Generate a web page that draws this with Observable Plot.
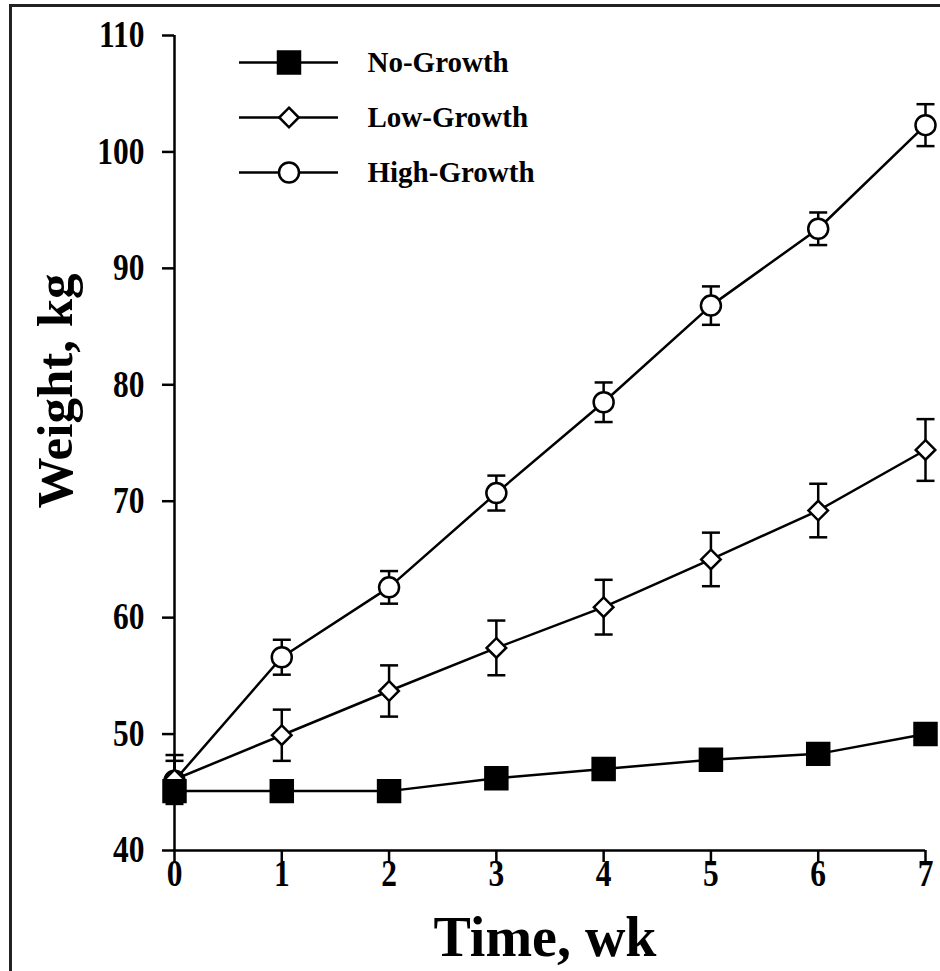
<!DOCTYPE html>
<html>
<head>
<meta charset="utf-8">
<script src="https://cdn.jsdelivr.net/npm/d3@7"></script>
<script src="https://cdn.jsdelivr.net/npm/@observablehq/plot@0.6"></script>
<style>
  html, body { margin: 0; padding: 0; background: #fff; }
  #wrap { position: relative; width: 940px; height: 971px; overflow: hidden; }
  #frame { position: absolute; left: 9px; top: 4px; width: 1000px; height: 1000px;
           border-left: 3px solid #222; border-top: 3px solid #222; pointer-events: none; }
  #legend { position: absolute; left: 239px; top: 40px; }
  svg text { font-family: "Liberation Serif", serif; font-weight: bold; }
</style>
</head>
<body>
<div id="wrap">
  <div id="chart"></div>
  <div id="legend"></div>
  <div id="frame"></div>
</div>
<script>
// ---- data ----
const weeks = [0, 1, 2, 3, 4, 5, 6, 7];
const seriesNames = ["No-Growth", "Low-Growth", "High-Growth"];
const noGrowth    = [45.1, 45.1, 45.1, 46.2, 47.0, 47.8, 48.3, 50.0];
const noGrowthSE  = [0.5, 0.5, 0.5, 0.5, 0.5, 0.5, 0.5, 0.5];
const lowGrowth   = [46.1, 49.9, 53.7, 57.4, 60.9, 65.0, 69.2, 74.4];
const lowGrowthSE = [2.1, 2.2, 2.2, 2.35, 2.35, 2.3, 2.3, 2.65];
const highGrowth  = [46.0, 56.6, 62.6, 70.7, 78.5, 86.8, 93.4, 102.3];
const highGrowthSE= [1.7, 1.5, 1.4, 1.5, 1.7, 1.65, 1.4, 1.8];
const xTicks = [0, 1, 2, 3, 4, 5, 6, 7];
const yTicks = [40, 50, 60, 70, 80, 90, 100, 110];
const xLabel = "Time, wk";
const yLabel = "Weight, kg";

const seriesValues = [noGrowth, lowGrowth, highGrowth];
const seriesSE = [noGrowthSE, lowGrowthSE, highGrowthSE];
const symbols = ["square", "diamond2", "circle"];
const fills = ["black", "white", "white"];
const radii = [12.4, 8.8, 10];

const rows = [];
seriesNames.forEach((s, i) => weeks.forEach((w, j) =>
  rows.push({series: s, idx: i, week: w, weight: seriesValues[i][j], se: seriesSE[i][j]})));

const cap = {
  draw(context, size) {
    const r = Math.sqrt(size / Math.PI);
    context.moveTo(-r, 0);
    context.lineTo(r, 0);
  }
};

const LW = 2.5;
const marks = [];
// lines
seriesNames.forEach((s) => {
  marks.push(Plot.line(rows.filter(d => d.series === s), {x: "week", y: "weight", stroke: "black", strokeWidth: LW}));
});
// error bars
[2, 1, 0].forEach((i) => {
  const data = rows.filter(d => d.idx === i);
  marks.push(Plot.ruleX(data, {x: "week", y1: d => d.weight - d.se, y2: d => d.weight + d.se, stroke: "black", strokeWidth: LW}));
  marks.push(Plot.dot(data, {x: "week", y: d => d.weight + d.se, symbol: cap, r: 9, stroke: "black", strokeWidth: LW}));
  marks.push(Plot.dot(data, {x: "week", y: d => d.weight - d.se, symbol: cap, r: 9, stroke: "black", strokeWidth: LW}));
});
// markers
[2, 1, 0].forEach((i) => {
  const data = rows.filter(d => d.idx === i);
  marks.push(Plot.dot(data, {x: "week", y: "weight", symbol: symbols[i], r: radii[i], fill: fills[i], stroke: "black", strokeWidth: LW}));
});

const chart = Plot.plot({
  width: 940,
  height: 971,
  marginLeft: 174,
  marginRight: 15,
  marginTop: 35,
  marginBottom: 121,
  style: {fontFamily: "'Liberation Serif', serif", background: "transparent", overflow: "visible"},
  x: {domain: [0, 7]},
  y: {domain: [40, 110]},
  marks: [
    Plot.ruleX([0], {stroke: "black", strokeWidth: LW}),
    Plot.ruleY([40], {stroke: "black", strokeWidth: LW}),
    Plot.axisY(yTicks, {tickSize: 12, tickPadding: 18, fontSize: 37, fontWeight: "bold", strokeWidth: LW, label: null}),
    Plot.axisX(xTicks, {tickSize: 12, tickPadding: -3, fontSize: 37, fontWeight: "bold", strokeWidth: LW, label: null}),
    Plot.text([xLabel], {frameAnchor: "bottom", textAnchor: "middle", lineAnchor: "middle", dy: 88, dx: -5, fontSize: 56, fontWeight: "bold", fill: "black"}),
    Plot.text([yLabel], {frameAnchor: "left", textAnchor: "middle", lineAnchor: "middle", rotate: -90, dx: -119, dy: -52, fontSize: 51, fontWeight: "bold", fill: "black"}),
    ...marks
  ]
});
document.getElementById("chart").appendChild(chart);

// narrow the tick labels horizontally, like the reference's condensed digits
d3.select(chart).selectAll('g[aria-label$="tick label"] text').each(function () {
  const t = this.getAttribute("transform");
  if (t) {
    this.setAttribute("transform", t + " scale(0.85,1)");
  } else {
    const x = +this.getAttribute("x") || 0, y = +this.getAttribute("y") || 0;
    this.setAttribute("transform", `translate(${x},${y}) scale(0.85,1) translate(${-x},${-y})`);
  }
});

// legend as a small Plot
const legendMarks = [
  Plot.ruleY(seriesNames, {y: d => d, x1: 0, x2: 1, stroke: "black", strokeWidth: LW})
];
seriesNames.forEach((s, i) => {
  legendMarks.push(Plot.dot([s], {x: 0.5, y: d => d, symbol: symbols[i], r: radii[i], fill: fills[i], stroke: "black", strokeWidth: LW}));
});
legendMarks.push(Plot.text(seriesNames, {x: 1, y: d => d, dx: 29, textAnchor: "start", fontSize: 29, fontWeight: "bold", fill: "black"}));

const legend = Plot.plot({
  width: 330,
  height: 160,
  margin: 0,
  style: {fontFamily: "'Liberation Serif', serif", background: "transparent", overflow: "visible"},
  x: {domain: [0, 1], range: [0, 99], axis: null},
  y: {type: "point", domain: seriesNames, range: [22, 132], padding: 0, axis: null},
  marks: legendMarks
});
document.getElementById("legend").appendChild(legend);
</script>
</body>
</html>
